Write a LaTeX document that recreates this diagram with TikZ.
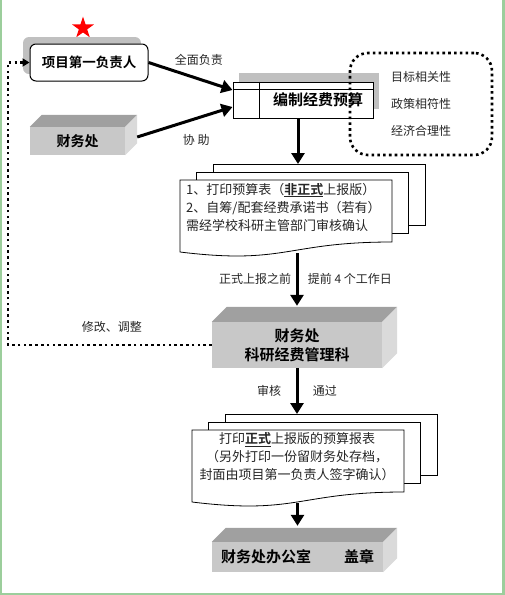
\documentclass[tikz,border=0pt]{standalone}
\usepackage{fontspec}
\setmainfont{Noto Sans CJK SC}[BoldFont={Noto Sans CJK SC Bold}]
\usepackage{xcolor}
\usepackage{tikz}
\usetikzlibrary{arrows.meta,shapes.geometric,shadows}
\definecolor{framegreen}{RGB}{156,206,156}
\definecolor{shadowgray}{RGB}{192,192,192}
\definecolor{blockfront}{RGB}{200,200,200}
\definecolor{blocktopc}{RGB}{160,160,160}
\definecolor{blocksidec}{RGB}{218,218,218}

\begin{document}
\begin{tikzpicture}[x=1pt,y=-1pt,font=\fontsize{12}{14}\selectfont,
  flow/.style={line width=3pt,-{Triangle[length=11pt,width=13pt]}},
  loopline/.style={line width=2.6pt,dash pattern=on 2.6pt off 3.2pt},
  page/.style={draw,line width=0.8pt,fill=white},
  leadbox/.style={draw,line width=1pt,rounded corners=6pt,fill=white,
    minimum width=118pt,minimum height=37pt,font=\bfseries\fontsize{13.5}{16}\selectfont,
    drop shadow={shadow xshift=-7pt,shadow yshift=7pt,fill=shadowgray,opacity=1}},
  planbox/.style={draw,line width=1pt,fill=white,minimum height=36pt,
    text width=120pt,inner xsep=10pt,align=right,font=\bfseries\fontsize{15}{18}\selectfont,
    drop shadow={shadow xshift=6pt,shadow yshift=9pt,fill=shadowgray,opacity=1}},
  critbox/.style={draw,loopline,rounded corners=18pt,minimum width=142pt,
    minimum height=102pt,align=center,text=black!85,font=\fontsize{12}{27}\selectfont},
  block/.style={fill=blockfront,inner sep=0pt,align=center,
    font=\bfseries\fontsize{15}{19}\selectfont},
  blocktop/.style={fill=blocktopc},
  blockside/.style={fill=blocksidec},
  doctext/.style={font=\fontsize{13}{18}\selectfont,inner sep=0pt,text=black!85},
  tag/.style={text=black!85}]
\useasboundingbox (0,0) rectangle (505,595);
\newcommand{\blockfaces}[2]{%
  \fill[blocktop] (#1.north west) -- ++(#2,-#2) -- ([shift={(#2,-#2)}]#1.north east)
    -- (#1.north east) -- cycle;
  \fill[blockside] (#1.north east) -- ([shift={(#2,-#2)}]#1.north east)
    -- ([shift={(#2,-#2)}]#1.south east) -- (#1.south east) -- cycle;
}
\newcommand{\docstack}[2]{%
  \begin{scope}[shift={#2}]
    \draw[page] (33,-16) rectangle (245,45);
    \draw[page] (16,-8) rectangle (228,53);
    \draw[page] (0,0) -- (212,0) -- (212,62)
      .. controls (106,62) and (106,85) .. (0,72) -- cycle;
    \coordinate (#1-top) at (33,-16);
    \coordinate (#1-bot) at (106,73);
  \end{scope}
}

% frame
\draw[framegreen,line width=1.5pt] (0.75,0) -- (0.75,594);
\draw[framegreen,line width=3pt] (503.5,0) -- (503.5,595);
\draw[framegreen,line width=2pt] (0,594) -- (505,594);

% top row
\node[star,star points=5,star point ratio=2.6,fill=red,inner sep=0pt,minimum size=23pt] (star) at (83,28) {};
\node[leadbox] (lead) at (89,62.5) {项目第一负责人};
\node[block,minimum width=95pt,minimum height=28pt,font=\bfseries\fontsize{14}{16}\selectfont] (fin) at (77.5,141) {财务处};
\blockfaces{fin}{12}
\node[planbox] (plan) at (303,100) {编制经费预算};
\draw[line width=1pt] ([yshift=-8pt]plan.north west) -- ([yshift=-8pt]plan.north east);
\draw[line width=1pt] ([xshift=27pt]plan.north west) -- ([xshift=27pt]plan.south west);
\node[critbox] (crit) at (421,104) {目标相关性\\政策相符性\\经济合理性};

% documents and blocks
\docstack{docA}{(180,180)}
\node[doctext,anchor=west,align=left] (docA) at (186,207)
  {1、打印预算表（\textbf{\underline{非正式}}上报版）\\2、自筹/配套经费承诺书（若有）\\需经学校科研主管部门审核确认};
\node[block,minimum width=170pt,minimum height=46pt] (mgmt) at (297,345) {财务处\\科研经费管理科};
\blockfaces{mgmt}{15}
\docstack{docB}{(192,430)}
\node[doctext,align=center] (docB) at (297,457)
  {打印\textbf{\underline{正式}}上报版的预算报表\\（另外打印一份留财务处存档，\\封面由项目第一负责人签字确认）};
\node[block,minimum width=171pt,minimum height=30pt] (office) at (297.5,557) {财务处办公室\hspace{33pt}盖章};
\blockfaces{office}{14}

% connectors
\draw[flow] (lead.east) -- ([yshift=10pt]plan.west) node[tag,pos=0.6,above=9pt] {全面负责};
\draw[flow] ([shift={(12,-4)}]fin.east) -- ([yshift=-7pt]plan.west) node[tag,pos=0.62,below=11pt] {协\ 助};
\draw[flow] ([xshift=-5pt]plan.south) -- ([xshift=-5pt]plan.south |- docA-top);
\draw[flow] (docA-bot -| mgmt.north) -- ([yshift=16pt]mgmt.north)
  node[tag,midway,left=1pt] {正式上报之前} node[tag,midway,right=6pt] {提前 4 个工作日};
\draw[flow] (mgmt.south) -- (mgmt.south |- docB-top)
  node[tag,midway,left=11pt] {审核} node[tag,midway,right=11pt] {通过};
\draw[flow] (docB-bot -| office.north) -- ([yshift=16pt]office.north);
\coordinate (loop) at (8,0);
\draw[loopline,-{Triangle[length=7pt,width=8pt]}] (mgmt.west) -| (loop |- lead.west)
  node[tag,pos=0.245,above=8pt] {修改、调整} -- (lead.west);
\end{tikzpicture}
\end{document}
